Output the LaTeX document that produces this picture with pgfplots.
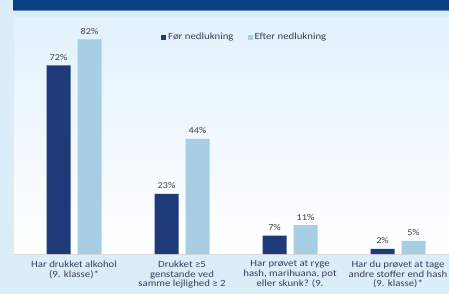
\documentclass[border=0pt]{standalone}
\usepackage{fontspec}
\setmainfont{Carlito}[FakeStretch=1.14]
\usepackage{pgfplots}
\pgfplotsset{compat=1.18}
\definecolor{navybar}{HTML}{1F3A78}
\definecolor{lightbar}{HTML}{A8CEE4}
\definecolor{bgout}{HTML}{DCEDFA}
\definecolor{bgtop}{HTML}{E2F1FC}
\definecolor{banner}{HTML}{0B4184}
\definecolor{bannerline}{HTML}{5A8CC2}
\definecolor{labcol}{HTML}{3A3D5E}
\definecolor{valcol}{HTML}{404048}
\begin{document}
\begin{tikzpicture}[x=1bp,y=1bp]
\useasboundingbox (0,0) rectangle (449,294);
\begin{scope}
\clip (0,0) rectangle (449,294);
\fill[bgout] (0,0) rectangle (449,294);
\fill[banner] (13,284) rectangle (449,294);
\draw[bannerline, line width=0.8bp] (13,284) -- (449,284);
\shade[top color=bgtop, bottom color=white] (14,40) rectangle (449,277);
\begin{axis}[
  at={(14bp,40bp)}, anchor=south west, scale only axis,
  width=435bp, height=237bp,
  xmin=-0.556, xmax=3.472, ymin=0, ymax=90.5,
  ybar=7bp, bar width=24bp,
  axis x line*=bottom, axis y line=none,
  x axis line style={draw=black!15, line width=0.8bp, -},
  /pgf/number format/assume math mode=true,
  ytick=\empty, xtick=data, major tick length=0pt,
  xticklabels={{Har drukket alkohol\\(9. klasse)*},
    {Drukket ≥5\\genstande ved\\samme lejlighed ≥ 2},
    {Har prøvet at ryge\\hash, marihuana, pot\\eller skunk? (9.},
    {Har du prøvet at tage\\andre stoffer end hash\\(9. klasse)*}},
  xticklabel style={align=center, text=labcol, font=\fontsize{9.5}{9.8}\selectfont, inner sep=0pt, yshift=-6.5bp},
  nodes near coords={\pgfmathprintnumber[fixed,precision=0]{\pgfplotspointmeta}\%},
  every node near coord/.append style={font=\fontsize{9}{10}\selectfont, text=valcol, yshift=1.5bp},
  legend columns=-1,
  legend style={at={(0.338,0.914)}, anchor=west, draw=none, fill=none,
    font=\fontsize{9.5}{10}\selectfont, text=labcol, inner sep=0pt,
    /tikz/every even column/.append style={column sep=12bp}},
]
\addplot[fill=navybar, draw=none, legend image code/.code={\fill[navybar] (0bp,-2.5bp) rectangle (5bp,2.5bp);}] coordinates {(0,72) (1,23) (2,7) (3,2)};
\addplot[fill=lightbar, draw=none, legend image code/.code={\fill[lightbar] (0bp,-2.5bp) rectangle (5bp,2.5bp);}] coordinates {(0,82) (1,44) (2,11) (3,5)};
\legend{Før nedlukning, Efter nedlukning}
\end{axis}
\end{scope}
\end{tikzpicture}
\end{document}
